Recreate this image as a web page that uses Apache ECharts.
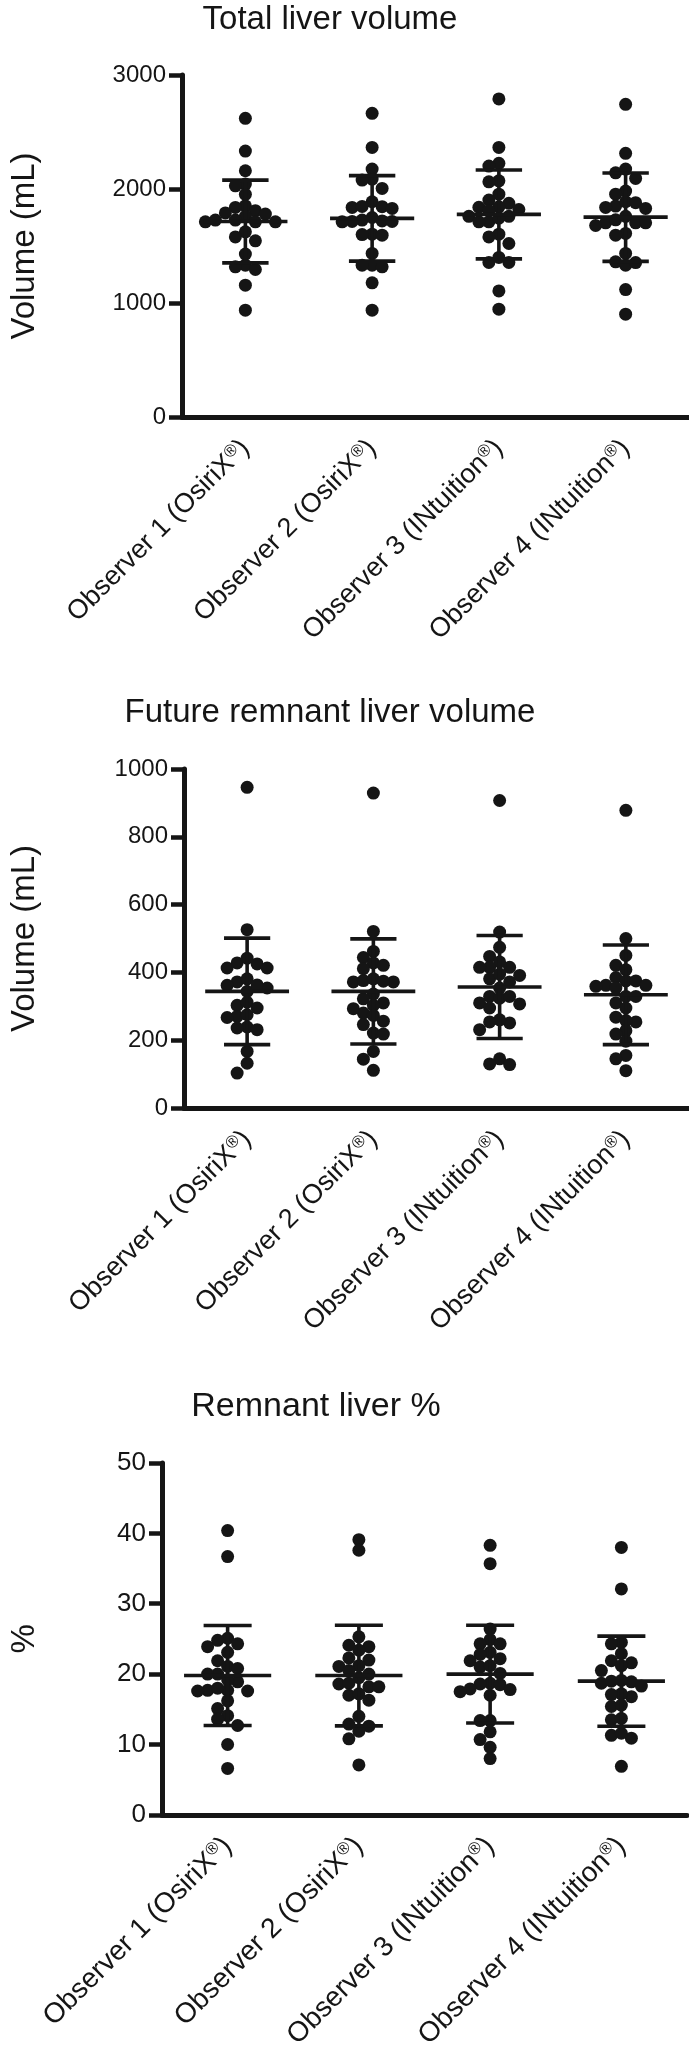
<!DOCTYPE html>
<html>
<head>
<meta charset="utf-8">
<script src="https://cdn.jsdelivr.net/npm/echarts@6/dist/echarts.min.js"></script>
<style>
html,body{margin:0;padding:0;background:#fff;}
#chart{width:689px;height:2052px;}
</style>
</head>
<body>
<div id="chart"></div>
<script>
// ---------- data ----------
const categories = ['Observer 1 (OsiriX', 'Observer 2 (OsiriX', 'Observer 3 (INtuition', 'Observer 4 (INtuition'];
const panelTitles = ['Total liver volume', 'Future remnant liver volume', 'Remnant liver %'];
const axisNames = ['Volume (mL)', 'Volume (mL)', '%'];

// Total liver volume (mL)
const tlv1 = [2620, 2333, 2160, 2043, 2028, 1953, 1853, 1838, 1810, 1790, 1780, 1760, 1727, 1712, 1712, 1712, 1727, 1624, 1580, 1545, 1429, 1332, 1317, 1294, 1156, 937];
const tlv2 = [2664, 2365, 2175, 2087, 2078, 2005, 1888, 1845, 1838, 1830, 1847, 1750, 1727, 1720, 1715, 1715, 1712, 1604, 1600, 1595, 1435, 1332, 1317, 1332, 1177, 937];
const tlv3 = [2790, 2365, 2225, 2201, 2072, 2063, 1955, 1903, 1874, 1844, 1820, 1840, 1810, 1760, 1712, 1760, 1712, 1745, 1604, 1580, 1522, 1356, 1356, 1400, 1106, 946];
const tlv4 = [2743, 2313, 2142, 2175, 2093, 1982, 1955, 1850, 1888, 1880, 1838, 1830, 1703, 1703, 1703, 1680, 1730, 1760, 1610, 1595, 1435, 1361, 1332, 1355, 1118, 902];
const tlvMean = [1715, 1742, 1777, 1753];
const tlvSD = [363, 375, 390, 388];

// Future remnant liver volume (mL)
const frlv1 = [946, 526, 428, 413, 425, 442, 413, 354, 372, 344, 362, 381, 363, 303, 312, 295, 270, 267, 275, 239, 231, 236, 167, 132, 103];
const frlv2 = [929, 521, 462, 444, 428, 421, 411, 372, 376, 372, 381, 374, 336, 310, 322, 303, 280, 293, 273, 256, 246, 221, 218, 167, 144, 111];
const frlv3 = [907, 519, 474, 447, 431, 415, 415, 415, 391, 381, 395, 372, 354, 329, 324, 329, 310, 307, 295, 251, 260, 254, 231, 145, 128, 130];
const frlv4 = [878, 500, 450, 421, 408, 385, 362, 359, 375, 375, 354, 362, 329, 329, 310, 295, 268, 254, 258, 228, 218, 197, 155, 145, 110];
const frlvMean = [344, 344, 357, 334];
const frlvSD = [157, 155, 152, 147];

// Remnant liver %
const rlp1 = [40.4, 36.7, 25.1, 24.3, 24.8, 23.9, 23.1, 21.9, 21.1, 20.8, 20.0, 20.0, 18.9, 19.2, 17.6, 17.7, 17.7, 18.0, 17.6, 16.2, 15.1, 14.1, 13.6, 12.7, 10.0, 6.6];
const rlp2 = [39.1, 37.6, 25.3, 24.1, 23.9, 23.4, 22.3, 22.0, 21.2, 21.1, 20.5, 20.0, 19.5, 18.6, 18.7, 18.2, 18.2, 17.0, 17.2, 16.3, 14.0, 12.9, 12.6, 11.9, 10.8, 7.1];
const rlp3 = [38.3, 35.7, 26.4, 24.9, 24.3, 24.3, 23.1, 22.8, 21.9, 22.2, 21.0, 21.2, 20.1, 18.7, 18.5, 18.6, 17.8, 17.9, 17.5, 17.0, 13.4, 13.4, 11.8, 10.7, 9.6, 8.0];
const rlp4 = [38.0, 32.1, 24.5, 24.3, 22.9, 21.6, 21.9, 21.2, 20.5, 18.7, 19.0, 19.1, 18.9, 18.3, 16.8, 17.2, 17.1, 15.4, 15.6, 13.5, 13.7, 11.3, 10.9, 11.6, 6.9];
const rlpMean = [19.8, 19.8, 20.0, 19.0];
const rlpSD = [7.1, 7.15, 6.95, 6.4];

const yMax = [3000, 1000, 50];
const yInterval = [1000, 200, 10];

// ---------- layout / style ----------
const INK = '#151515';
const FONT = '"Liberation Sans", Arial, Helvetica, sans-serif';
const grids = [
  {left: 176, top: 75, right: 0, height: 342},
  {left: 178, top: 769, right: 0, height: 339},
  {left: 154, top: 1463, right: 2, height: 354}
];
const tickFont = [24, 24, 26];
const catFont = [27, 27, 28];
const nameGaps = [141, 143, 121];
const titleY = [20, 713, 1407];
const titleX = [330, 330, 316];
const titleSize = [33, 33, 34];
const DOT = 13;

const panels = [
  {groups: [tlv1, tlv2, tlv3, tlv4], mean: tlvMean, sd: tlvSD},
  {groups: [frlv1, frlv2, frlv3, frlv4], mean: frlvMean, sd: frlvSD},
  {groups: [rlp1, rlp2, rlp3, rlp4], mean: rlpMean, sd: rlpSD}
];

// beeswarm offsets (px) computed from values and pixel scale
function swarm(values, pxPerUnit) {
  const order = values.map((v, i) => i).sort((a, b) => values[b] - values[a]);
  const placed = [];
  const offs = new Array(values.length).fill(0);
  const step = 10, minDist = 10;
  for (const i of order) {
    const y = values[i] * pxPerUnit;
    for (let k = 0; k < 30; k++) {
      const m = Math.ceil(k / 2);
      const cand = k === 0 ? 0 : (k % 2 ? -m * step : m * step);
      if (placed.every(p => Math.hypot(p.x - cand, p.y - y) >= minDist)) {
        offs[i] = cand; placed.push({x: cand, y: y}); break;
      }
    }
  }
  return offs;
}

const xAxes = [], yAxes = [], series = [], graphics = [];
panels.forEach((p, k) => {
  xAxes.push({
    type: 'category', gridIndex: k, data: categories, boundaryGap: true,
    axisLine: {lineStyle: {color: INK, width: 5}},
    axisTick: {alignWithLabel: true, length: 11, lineStyle: {color: INK, width: 4.5}},
    axisLabel: {
      interval: 0, rotate: 45, margin: 27, color: INK,
      fontFamily: FONT, fontSize: catFont[k],
      formatter: v => v + '{sup|®}' + ')',
      rich: {sup: {fontSize: Math.round(catFont[k] * 0.62), fontFamily: FONT, color: INK, verticalAlign: 'top'}}
    },
    splitLine: {show: false}
  });
  yAxes.push({
    type: 'value', gridIndex: k, min: 0, max: yMax[k], interval: yInterval[k],
    name: axisNames[k], nameLocation: 'middle', nameGap: nameGaps[k],
    nameTextStyle: {fontFamily: FONT, fontSize: 33, color: INK},
    axisLine: {show: true, lineStyle: {color: INK, width: 5}},
    axisTick: {show: true, length: 13, lineStyle: {color: INK, width: 4.5}},
    axisLabel: {margin: 16, color: INK, fontFamily: FONT, fontSize: tickFont[k], formatter: v => String(v)},
    splitLine: {show: false}
  });
  const pxPerUnit = grids[k].height / yMax[k];
  const data = [];
  p.groups.forEach((vals, gi) => {
    const offs = swarm(vals, pxPerUnit);
    vals.forEach((v, j) => data.push({value: [gi, v], symbolOffset: [offs[j], 0]}));
  });
  series.push({
    type: 'scatter', xAxisIndex: k, yAxisIndex: k, data: data,
    symbol: 'circle', symbolSize: DOT, itemStyle: {color: INK, opacity: 1}, z: 3,
    emphasis: {disabled: true}, silent: true
  });
  series.push({
    type: 'custom', xAxisIndex: k, yAxisIndex: k, z: 4, silent: true,
    data: p.mean.map((m, i) => [i, m, p.sd[i]]),
    renderItem: function (params, api) {
      const i = api.value(0), m = api.value(1), sd = api.value(2);
      const c = api.coord([i, m]);
      const top = api.coord([i, m + sd]);
      const bot = api.coord([i, m - sd]);
      const bw = api.size([1, 0])[0];
      const mw = bw * 0.332, cw = bw * 0.183;
      const st = {stroke: INK, lineWidth: 3.6};
      return {type: 'group', children: [
        {type: 'line', shape: {x1: c[0], y1: top[1], x2: c[0], y2: bot[1]}, style: st},
        {type: 'line', shape: {x1: c[0] - mw, y1: c[1], x2: c[0] + mw, y2: c[1]}, style: st},
        {type: 'line', shape: {x1: c[0] - cw, y1: top[1], x2: c[0] + cw, y2: top[1]}, style: st},
        {type: 'line', shape: {x1: c[0] - cw, y1: bot[1], x2: c[0] + cw, y2: bot[1]}, style: st}
      ]};
    }
  });
  graphics.push({
    type: 'text', x: titleX[k], y: titleY[k], silent: true,
    style: {text: panelTitles[k], fill: INK, font: titleSize[k] + 'px ' + FONT, textAlign: 'center', textVerticalAlign: 'middle'}
  });
});

const chart = echarts.init(document.getElementById('chart'), null, {renderer: 'canvas'});
chart.setOption({
  animation: false,
  backgroundColor: '#ffffff',
  grid: grids,
  xAxis: xAxes,
  yAxis: yAxes,
  series: series,
  graphic: graphics
});
</script>
</body>
</html>
